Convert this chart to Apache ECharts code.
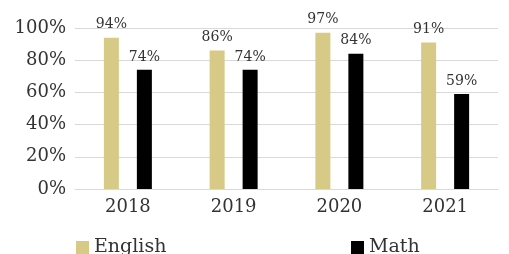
<!DOCTYPE html>
<html>
<head>
<meta charset="utf-8">
<script src="https://cdn.jsdelivr.net/npm/echarts@6/dist/echarts.min.js"></script>
<style>
  html, body { margin: 0; padding: 0; background: #fff; }
  #main { width: 509px; height: 254px; }
</style>
</head>
<body>
<div id="main"></div>
<script>
// data
let years = ['2018', '2019', '2020', '2021'];
let english = [94, 86, 97, 91];
let math = [74, 74, 84, 59];
let yTicks = [0, 20, 40, 60, 80, 100];

let myChart = echarts.init(document.getElementById('main'));
let font = '"DejaVu Serif", "Liberation Serif", serif';
let textColor = '#333333';

myChart.setOption({
    animation: false,
    textStyle: { fontFamily: font },
    grid: { left: 75, right: 11, top: 28, bottom: 65 },
    legend: [
        {
            data: ['English'],
            left: 71, top: 233,
            itemWidth: 13, itemHeight: 13,
            itemGap: 8,
            icon: 'rect',
            textStyle: { fontFamily: font, fontSize: 19, color: textColor }
        },
        {
            data: ['Math'],
            left: 346, top: 233,
            itemWidth: 13, itemHeight: 13,
            icon: 'rect',
            textStyle: { fontFamily: font, fontSize: 19, color: textColor }
        }
    ],
    xAxis: {
        type: 'category',
        data: years,
        axisTick: { show: false },
        axisLine: { lineStyle: { color: '#d9d9d9', width: 1 } },
        axisLabel: { fontFamily: font, fontSize: 18, color: textColor, margin: 9 }
    },
    yAxis: {
        type: 'value',
        min: yTicks[0],
        max: yTicks[yTicks.length - 1],
        interval: 20,
        axisLine: { show: false },
        axisTick: { show: false },
        splitLine: { lineStyle: { color: '#d9d9d9', width: 1 } },
        axisLabel: {
            fontFamily: font, fontSize: 18, color: textColor, margin: 9,
            formatter: '{value}%'
        }
    },
    series: [
        {
            name: 'English',
            type: 'bar',
            data: english,
            barWidth: 15,
            barGap: '120%',
            itemStyle: { color: '#d6ca86' },
            label: {
                show: true, position: 'top', distance: 6,
                fontFamily: font, fontSize: 14, color: textColor,
                formatter: '{c}%'
            }
        },
        {
            name: 'Math',
            type: 'bar',
            data: math,
            barWidth: 15,
            itemStyle: { color: '#000000' },
            label: {
                show: true, position: 'top', distance: 6,
                fontFamily: font, fontSize: 14, color: textColor,
                formatter: '{c}%'
            }
        }
    ]
});
</script>
</body>
</html>
